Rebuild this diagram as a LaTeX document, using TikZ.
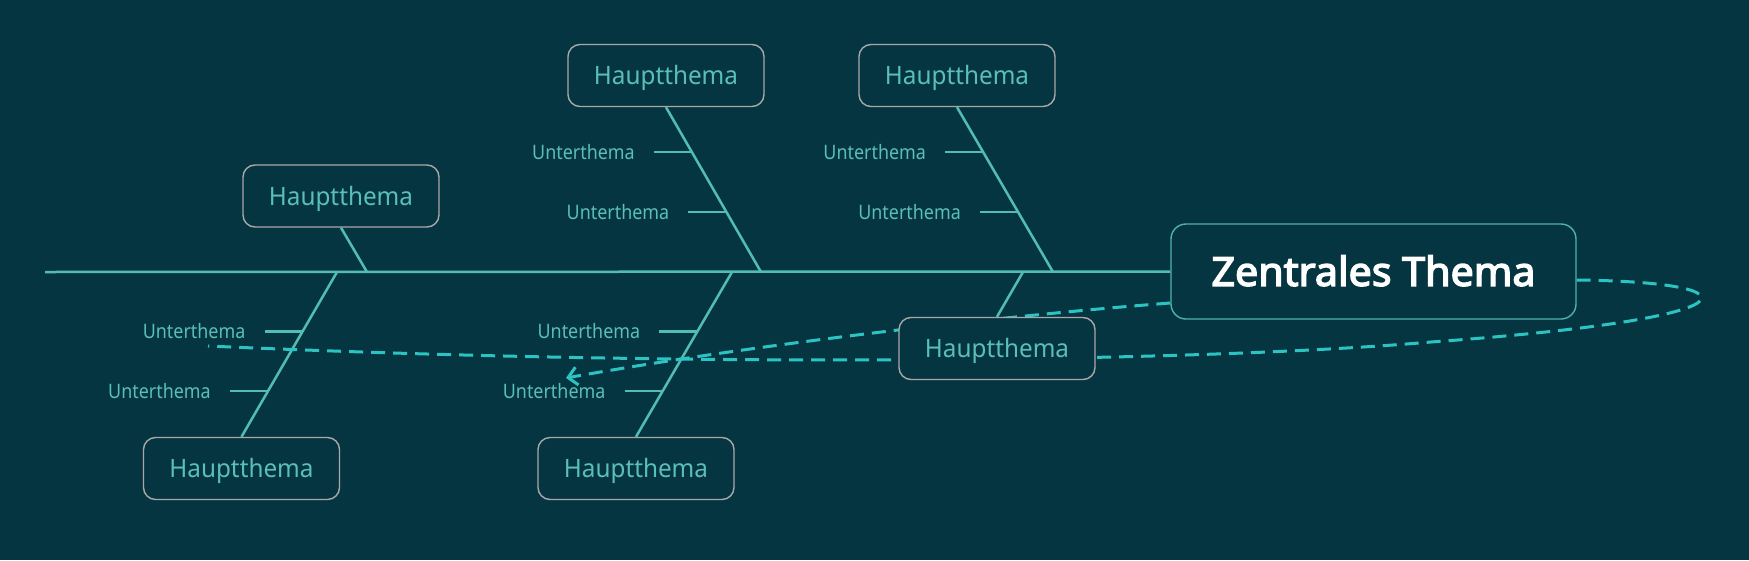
\documentclass[tikz,border=0pt]{standalone}
\usepackage{fontspec}
\setmainfont{Noto Sans}
\newfontfamily\hfont[FakeStretch=0.96]{Noto Sans}
\newfontfamily\ufont[FakeStretch=0.9]{Noto Sans}
\newfontfamily\zfont[FakeStretch=1.03,FakeBold=3.5]{Noto Sans}
\usetikzlibrary{arrows.meta,calc}
\definecolor{bgc}{HTML}{063542}
\definecolor{bonec}{HTML}{52BDB5}
\definecolor{dashc}{HTML}{2CC3C3}
\definecolor{boxc}{HTML}{A8A8A8}
\definecolor{cboxc}{HTML}{4DB3AB}
\definecolor{txtc}{HTML}{5ABFB7}
\pgfdeclarelayer{back}
\pgfsetlayers{back,main}
\tikzset{
  haupt/.style={draw=boxc, line width=1.4pt, rounded corners=12pt, fill=bgc,
    minimum width=196pt, minimum height=62pt, inner sep=0pt,
    text height=18pt, text depth=0pt,
    text=txtc, font=\hfont\fontsize{25.3}{28}\selectfont},
  central/.style={draw=cboxc, line width=1.4pt, rounded corners=15pt, fill=bgc,
    minimum width=405pt, minimum height=95pt, inner sep=0pt,
    text height=28.6pt, text depth=0pt,
    text=white, font=\zfont\fontsize{40}{46}\selectfont},
  sub/.style={text=txtc, inner sep=0pt, anchor=east,
    text height=14.2pt, text depth=0pt,
    font=\ufont\fontsize{19.9}{22}\selectfont},
  bone/.style={draw=bonec, line width=2.5pt},
  dashline/.style={draw=dashc, line width=3pt, dash pattern=on 14pt off 8pt},
}
\begin{document}
\begin{tikzpicture}[x=1pt,y=-1pt]
\useasboundingbox (0,0) rectangle (1749,560);
% nodes
\node[central] (Z) at (1373.5,271.5) {Zentrales Thema};
\node[haupt] (A) at (341,196) {Hauptthema};
\node[haupt] (B) at (666,75.5) {Hauptthema};
\node[haupt] (C) at (957,75.5) {Hauptthema};
\node[haupt] (D) at (241.5,468.5) {Hauptthema};
\node[haupt] (E) at (636,468.5) {Hauptthema};
\node[haupt] (F) at (997,348.5) {Hauptthema};
\coordinate (S0) at (45,272);
\coordinate (jA) at (367,272);
\coordinate (jB) at (761,272);
\coordinate (jC) at (1053,272);
\coordinate (jD) at (337,272);
\coordinate (jE) at (732,272);
\coordinate (jF) at (1023,272);
% attachment points on bones
\coordinate (b1) at ($(B.south)!0.273!(jB)$);
\coordinate (b2) at ($(B.south)!0.636!(jB)$);
\coordinate (c1) at ($(C.south)!0.273!(jC)$);
\coordinate (c2) at ($(C.south)!0.636!(jC)$);
\coordinate (d1) at ($(jD)!0.361!(D.north)$);
\coordinate (d2) at ($(jD)!0.723!(D.north)$);
\coordinate (e1) at ($(jE)!0.361!(E.north)$);
\coordinate (e2) at ($(jE)!0.723!(E.north)$);
% sub labels
\node[sub] (lb1) at ($(b1)+(-57,0)$) {Unterthema};
\node[sub] (lb2) at ($(b2)+(-57,0)$) {Unterthema};
\node[sub] (lc1) at ($(c1)+(-57,0)$) {Unterthema};
\node[sub] (lc2) at ($(c2)+(-57,0)$) {Unterthema};
\node[sub] (ld1) at ($(d1)+(-57,0)$) {Unterthema};
\node[sub] (ld2) at ($(d2)+(-57,0)$) {Unterthema};
\node[sub] (le1) at ($(e1)+(-57,0)$) {Unterthema};
\node[sub] (le2) at ($(e2)+(-57,0)$) {Unterthema};
\coordinate (arrowEnd) at (566,378);
\coordinate (loopEnd) at (208,346);
\begin{pgfonlayer}{back}
\fill[bgc] (0,0) rectangle (1749,560);
\draw[bone] (S0) -- (Z.west);
\draw[bone] (A.south) -- (jA);
\draw[bone] (B.south) -- (jB);
\draw[bone] (C.south) -- (jC);
\draw[bone] (jD) -- (D.north);
\draw[bone] (jE) -- (E.north);
\draw[bone] (jF) -- (F.north);
\foreach \l/\p in {lb1/b1,lb2/b2,lc1/c1,lc2/c2,ld1/d1,ld2/d2,le1/e1,le2/e2}{
  \draw[bone] ([xshift=19pt]\l.east) -- (\p);
}
\draw[dashline] ([yshift=-8.5pt]Z.east) .. controls (1760,282) and (1765,318) .. (1431,342)
  .. controls (1200,362) and (700,368) .. (loopEnd);
\draw[dashline, -{Straight Barb[length=9pt,width=18pt,line width=3pt]}]
  ([yshift=-31.5pt]Z.west) .. controls (1000,316) and (750,345) .. (arrowEnd);
\end{pgfonlayer}
\end{tikzpicture}
\end{document}
